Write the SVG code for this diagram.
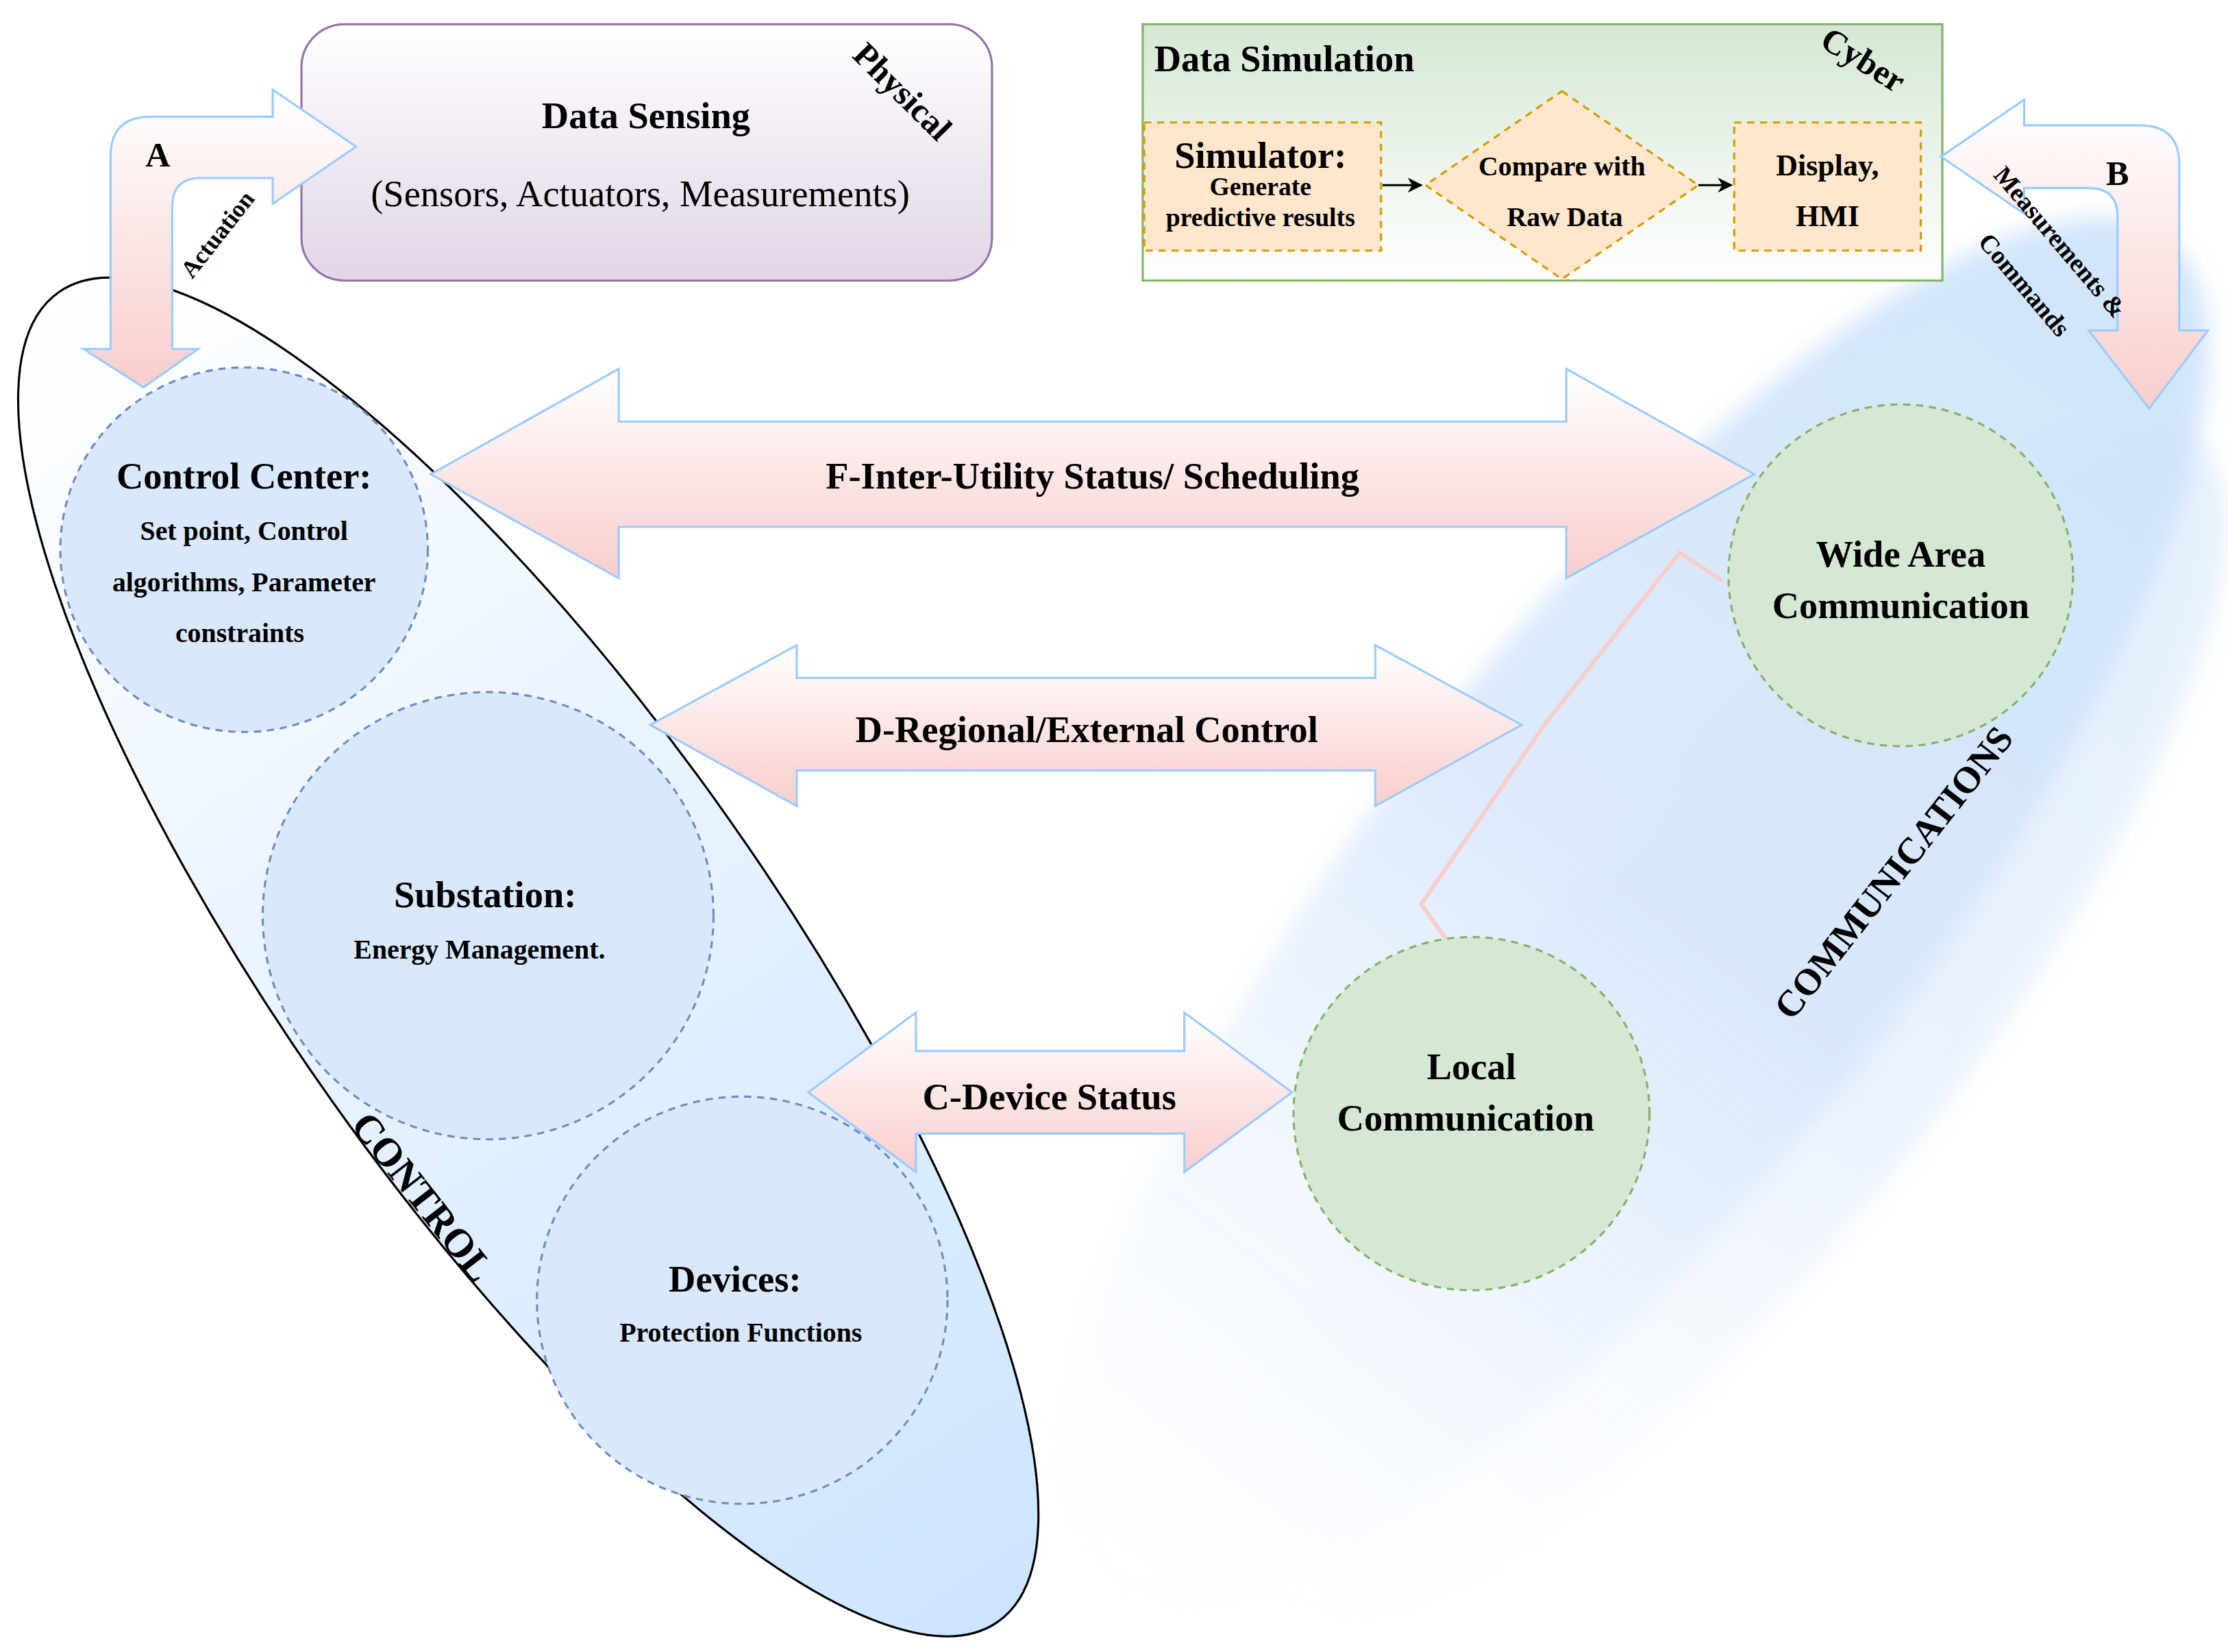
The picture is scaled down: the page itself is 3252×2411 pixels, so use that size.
<svg xmlns="http://www.w3.org/2000/svg" width="3252" height="2411" viewBox="0 0 3252 2411">
<style>
text{font-family:"Liberation Serif",serif;fill:#000;text-anchor:middle}
.b{font-weight:bold}
.bc{fill:#dae8fc;stroke:#6c8ebf;stroke-width:1.5;stroke-dasharray:5 4}
.gc{fill:#d5e8d4;stroke:#82b366;stroke-width:1.5;stroke-dasharray:5 4}
.ar{fill:url(#pk);stroke:#99ccff;stroke-width:1.5}
.ob{fill:#ffe6cc;stroke:#d79b00;stroke-width:1.5;stroke-dasharray:5 4}
</style>
<defs>
<linearGradient id="pk" x1="0" y1="0" x2="0" y2="1"><stop offset="0" stop-color="#ffffff"/><stop offset="1" stop-color="#f8cecc"/></linearGradient>
<linearGradient id="pu" x1="0" y1="0" x2="0" y2="1"><stop offset="0" stop-color="#ffffff"/><stop offset="1" stop-color="#e1d5e7"/></linearGradient>
<linearGradient id="gr" x1="0" y1="0" x2="0" y2="1"><stop offset="0" stop-color="#d5e8d4"/><stop offset="1" stop-color="#ffffff"/></linearGradient>
<linearGradient id="bl" x1="0" y1="0" x2="1" y2="0"><stop offset="0" stop-color="#ffffff"/><stop offset="1" stop-color="#cce5ff"/></linearGradient>
<linearGradient id="cm" x1="0" y1="0" x2="1" y2="0"><stop offset="0" stop-color="#ffffff" stop-opacity="0.5"/><stop offset="0.5" stop-color="#dae8fc"/><stop offset="1" stop-color="#cce3fb"/></linearGradient>
<filter id="bx" x="-20%" y="-20%" width="140%" height="140%"><feGaussianBlur stdDeviation="8"/></filter>
<marker id="m" viewBox="0 0 10 10" refX="9" refY="5" markerWidth="7" markerHeight="7" orient="auto"><path d="M0,0 L10,5 L0,10 L3,5 Z" fill="#000"/></marker>
</defs>
<rect width="3252" height="2411" fill="#fff"/>
<g transform="scale(2.0954,2.0784)">
<g id="communications">
<ellipse cx="1140" cy="640" rx="600" ry="190" transform="rotate(-52 1140 640)" fill="url(#cm)" filter="url(#bx)" opacity="0.9"/>
<ellipse cx="1210" cy="720" rx="520" ry="150" transform="rotate(-52 1210 720)" fill="url(#cm)" opacity="0.5" filter="url(#bx)"/>
<text class="b" x="1318" y="622" font-size="26" transform="rotate(-52 1318 612)">COMMUNICATIONS</text>
</g>
<g id="control">
<ellipse cx="368" cy="672" rx="570" ry="170" transform="rotate(55 368 672)" fill="url(#bl)" stroke="#000" stroke-width="1.5"/>
<text class="b" x="295" y="850" font-size="28" transform="rotate(52 295 840)">CONTROL</text>
</g>
<g id="physical">
<rect x="210" y="17" width="481" height="180" rx="30" fill="url(#pu)" stroke="#9673a6" stroke-width="1.5"/>
<text class="b" x="450" y="90" font-size="26">Data Sensing</text>
<text x="446" y="145" font-size="26">(Sensors, Actuators, Measurements)</text>
<text class="b" x="628" y="72" font-size="24" transform="rotate(45 628 65)">Physical</text>
</g>
<g id="cyber">
<rect x="796" y="17" width="557" height="180" fill="url(#gr)" stroke="#82b366" stroke-width="1.5"/>
<text class="b" x="804" y="50" font-size="26" style="text-anchor:start">Data Simulation</text>
<text class="b" x="1298" y="50" font-size="24" transform="rotate(32 1298 42)">Cyber</text>
</g>
<g id="simulator">
<rect class="ob" x="797" y="86" width="165" height="90"/>
<text class="b" x="878" y="118" font-size="26">Simulator:</text>
<text class="b" x="878" y="137" font-size="18">Generate</text>
<text class="b" x="878" y="159" font-size="18">predictive results</text>
</g>
<g id="compare">
<path class="ob" d="M1088,64 L1183,130 L1088,196 L993,130 Z"/>
<text class="b" x="1088" y="123" font-size="19">Compare with</text>
<text class="b" x="1090" y="159" font-size="19">Raw Data</text>
</g>
<g id="display">
<rect class="ob" x="1208" y="86" width="130" height="90"/>
<text class="b" x="1273" y="123" font-size="21">Display,</text>
<text class="b" x="1273" y="159" font-size="21">HMI</text>
</g>
<g id="connectors">
<line x1="963" y1="130" x2="990" y2="130" stroke="#000" stroke-width="1.5" marker-end="url(#m)"/>
<line x1="1183" y1="130" x2="1206" y2="130" stroke="#000" stroke-width="1.5" marker-end="url(#m)"/>
<polyline points="1200,408 1170,388 1075,510 990,635 1015,670" fill="none" stroke="#f8cecc" stroke-width="3"/>
<path class="ar" d="M190,82 L190,63 L248,103 L190,143 L190,125 L140,125 Q120,125 120,145 L120,245 L138,245 L100,272 L58,245 L77,245 L77,110 Q77,82 105,82 Z"/>
<text class="b" x="110" y="117" font-size="24">A</text>
<text class="b" x="152" y="170" font-size="17" transform="rotate(-52 152 165)">Actuation</text>
<path class="ar" d="M1410,88 L1410,70 L1352,110 L1410,150 L1410,132 L1455,132 Q1475,132 1475,152 L1475,232 L1455,232 L1497,287 L1538,232 L1518,232 L1518,115 Q1518,88 1490,88 Z"/>
<text class="b" x="1475" y="130" font-size="24">B</text>
<text class="b" x="1435" y="176" font-size="18" transform="rotate(50 1435 170)">Measurements &amp;</text>
<text class="b" x="1410" y="206" font-size="18" transform="rotate(50 1410 200)">Commands</text>
<path class="ar" d="M300,333 L431,259 L431,296 L1091,296 L1091,259 L1222,333 L1091,406 L1091,370 L431,370 L431,406 Z"/>
<text class="b" x="761" y="343" font-size="26">F-Inter-Utility Status/ Scheduling</text>
<path class="ar" d="M453,509 L555,453 L555,476 L958,476 L958,453 L1060,509 L958,566 L958,541 L555,541 L555,566 Z"/>
<text class="b" x="757" y="521" font-size="26">D-Regional/External Control</text>
<path class="ar" d="M563,767 L638,711 L638,738 L825,738 L825,711 L900,767 L825,823 L825,796 L638,796 L638,823 Z"/>
<text class="b" x="731" y="779" font-size="26">C-Device Status</text>
</g>
<g id="control-center">
<circle class="bc" cx="170" cy="386" r="128"/>
<text class="b" x="170" y="343" font-size="26">Control Center:</text>
<text class="b" x="170" y="379" font-size="19">Set point, Control</text>
<text class="b" x="170" y="415" font-size="19">algorithms, Parameter</text>
<text class="b" x="167" y="451" font-size="19">constraints</text>
</g>
<g id="substation">
<circle class="bc" cx="340" cy="643" r="157"/>
<text class="b" x="338" y="637" font-size="26">Substation:</text>
<text class="b" x="334" y="673" font-size="19">Energy Management.</text>
</g>
<g id="devices">
<circle class="bc" cx="517" cy="913" r="143"/>
<text class="b" x="512" y="907" font-size="26">Devices:</text>
<text class="b" x="516" y="942" font-size="19">Protection Functions</text>
</g>
<g id="wide-area">
<circle class="gc" cx="1324" cy="404" r="120"/>
<text class="b" x="1324" y="398" font-size="26">Wide Area</text>
<text class="b" x="1324" y="434" font-size="26">Communication</text>
</g>
<g id="local">
<circle class="gc" cx="1025" cy="782" r="124"/>
<text class="b" x="1025" y="758" font-size="26">Local</text>
<text class="b" x="1021" y="794" font-size="26">Communication</text>
</g>
</g>
</svg>
